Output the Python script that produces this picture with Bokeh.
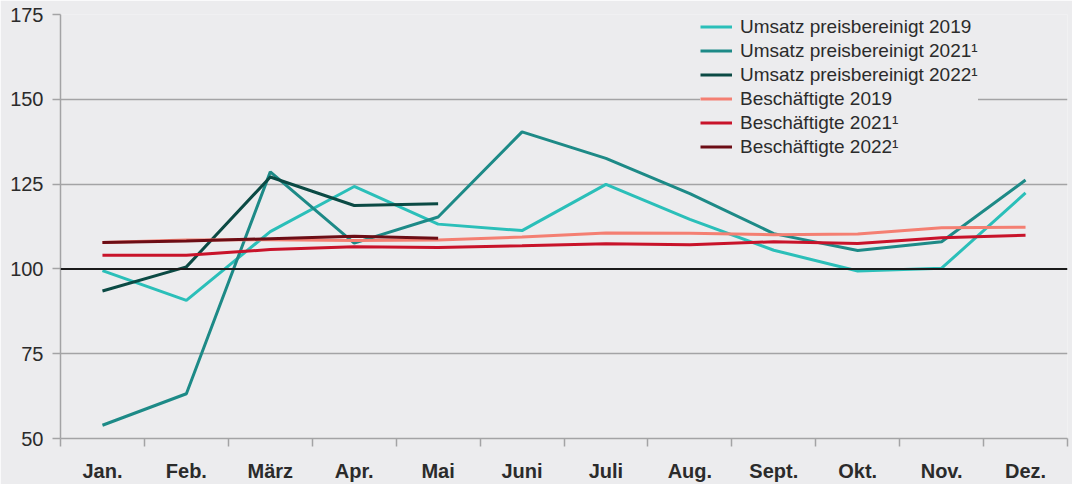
from bokeh.plotting import figure
from bokeh.models import (Range1d, FixedTicker, LinearAxis, Span, Legend, LegendItem)
from bokeh.embed import file_html
from bokeh.resources import INLINE

months = ["Jan.", "Feb.", "März", "Apr.", "Mai", "Juni", "Juli", "Aug.", "Sept.", "Okt.", "Nov.", "Dez."]

umsatz_2019 = [99.5, 90.7, 111.0, 124.3, 113.2, 111.3, 124.9, 114.6, 105.5, 99.4, 100.2, 122.4]
umsatz_2021 = [53.9, 63.2, 128.6, 107.6, 115.3, 140.4, 132.6, 122.2, 110.4, 105.4, 108.0, 126.2]
umsatz_2022 = [93.5, 100.6, 127.1, 118.7, 119.2]
besch_2019 = [107.8, 108.5, 108.6, 108.4, 108.5, 109.4, 110.6, 110.5, 110.1, 110.3, 112.1, 112.3]
besch_2021 = [104.0, 104.0, 105.7, 106.5, 106.3, 106.8, 107.4, 107.1, 108.0, 107.5, 109.2, 109.9]
besch_2022 = [107.8, 108.2, 108.9, 109.6, 109.0]

y_ticks = [50, 75, 100, 125, 150, 175]

series = [
    ("Umsatz preisbereinigt 2019", umsatz_2019, "#2bbfb9"),
    ("Umsatz preisbereinigt 2021¹", umsatz_2021, "#1d8a87"),
    ("Umsatz preisbereinigt 2022¹", umsatz_2022, "#0b4a44"),
    ("Beschäftigte 2019", besch_2019, "#f47f72"),
    ("Beschäftigte 2021¹", besch_2021, "#c8132a"),
    ("Beschäftigte 2022¹", besch_2022, "#6c0d15"),
]

BG = "#ececee"
GRID = "#a3a3a5"
TXT = "#2b2b2b"
FONT = "Liberation Sans"

p = figure(width=1072, height=484, output_backend="svg", toolbar_location=None,
           x_range=Range1d(0, 12), y_range=Range1d(50, 175),
           min_border_left=60, min_border_top=14, min_border_right=5, min_border_bottom=44,
           background_fill_color=BG, border_fill_color=BG, outline_line_color=None,
           x_axis_location=None, y_axis_location="left")

# y axis
ya = p.yaxis[0]
ya.ticker = FixedTicker(ticks=y_ticks)
ya.axis_line_color = GRID
ya.axis_line_width = 1.5
ya.major_tick_line_color = GRID
ya.major_tick_line_width = 1.5
ya.major_tick_out = 8
ya.major_tick_in = 0
ya.minor_tick_line_color = None
ya.major_label_text_font = FONT
ya.major_label_text_font_size = "20px"
ya.major_label_text_color = TXT
ya.major_label_standoff = 9

p.xgrid.grid_line_color = None
p.ygrid.ticker = FixedTicker(ticks=[75, 125, 150, 175])
p.ygrid.grid_line_color = GRID
p.ygrid.grid_line_width = 1.5

# bottom axis: axis line and tick marks at the month boundaries
bounds = list(range(0, 13))
xa = LinearAxis(ticker=FixedTicker(ticks=bounds),
                major_label_overrides={b: "" for b in bounds})
xa.axis_line_color = GRID
xa.axis_line_width = 1.5
xa.major_tick_line_color = GRID
xa.major_tick_line_width = 1.5
xa.major_tick_out = 8
xa.major_tick_in = 0
xa.minor_tick_line_color = None
xa.major_label_text_font_size = "1px"
xa.major_label_standoff = 0
p.add_layout(xa, "below")

# month labels at category centres
centers = [i + 0.5 for i in range(len(months))]
xl = LinearAxis(ticker=FixedTicker(ticks=centers),
                major_label_overrides={c: m for c, m in zip(centers, months)})
xl.axis_line_color = None
xl.major_tick_line_color = None
xl.minor_tick_line_color = None
xl.major_label_text_font = FONT
xl.major_label_text_font_style = "bold"
xl.major_label_text_font_size = "20px"
xl.major_label_text_color = TXT
xl.major_label_standoff = 7
p.add_layout(xl, "below")

# 100 reference line
p.add_layout(Span(location=100, dimension="width", line_color="#1a1a1a", line_width=2))

items = []
for name, vals, col in series:
    xs = [i + 0.5 for i in range(len(vals))]
    r = p.line(xs, vals, line_color=col, line_width=3)
    items.append(LegendItem(label=name, renderers=[r]))

legend = Legend(items=items, location=(640, 280), orientation="vertical",
                background_fill_color=BG, background_fill_alpha=1.0,
                border_line_color=None, padding=8, margin=0,
                glyph_width=32, glyph_height=23, label_height=23, spacing=1,
                label_standoff=8, label_text_font=FONT, label_text_font_size="19px",
                label_text_color=TXT)
p.add_layout(legend)

open("out.html", "w").write(file_html(p, INLINE))
